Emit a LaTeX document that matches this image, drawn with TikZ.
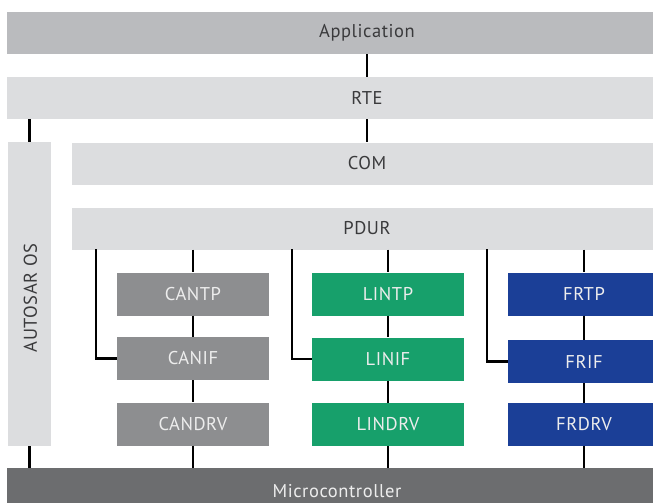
\documentclass[tikz,border=0pt]{standalone}
\usepackage{fontspec}
\setmainfont[LetterSpace=3]{PT Sans}
\usetikzlibrary{calc}
\definecolor{appgray}{HTML}{BABBBE}
\definecolor{lightgray}{HTML}{DCDDDF}
\definecolor{cangray}{HTML}{8D8E90}
\definecolor{lingreen}{HTML}{17A06B}
\definecolor{frblue}{HTML}{1B3F97}
\definecolor{microgray}{HTML}{6C6D6F}
\definecolor{darktext}{HTML}{3A3A3C}
\definecolor{lighttext}{HTML}{EDEDED}
\tikzset{
  labelfont/.style={font=\fontsize{18.5}{20}\selectfont},
  layer/.style={rectangle, inner sep=0pt, fill=lightgray, text=darktext, labelfont},
  module/.style={rectangle, inner sep=0pt, minimum width=152pt, minimum height=43pt, text=lighttext, labelfont},
  link/.style={line width=2.6pt, black}
}
\begin{document}
\begin{tikzpicture}[x=1pt, y=-1pt]
\useasboundingbox (0,0) rectangle (653,503);
\clip (0,0) rectangle (653,503);
\fill[white] (0,0) rectangle (653,503);

% horizontal layers
\node[layer, fill=appgray, minimum width=720pt, minimum height=42pt] (app) at (367,33) {Application};
\node[layer, minimum width=720pt, minimum height=42pt] (rte) at (367,98) {RTE};
\node[layer, minimum width=590pt, minimum height=42pt] (com) at (367,163.5) {COM};
\node[layer, minimum width=590pt, minimum height=42pt] (pdur) at (367,228.5) {PDUR};
\node[layer, minimum width=43pt, minimum height=304pt] (os) at (29.5,294) {};
\node[text=darktext, labelfont, rotate=90] (oslabel) at ($(os.center)+(1,4)$) {AUTOSAR OS};
\node[layer, fill=microgray, text=lighttext, minimum width=660pt, minimum height=46pt] (micro) at (337,491) {Microcontroller};

% CAN stack
\node[module, fill=cangray] (cantp) at (193,294) {CANTP};
\node[module, fill=cangray] (canif) at (193,358.5) {CANIF};
\node[module, fill=cangray] (candrv) at (193,424) {CANDRV};
% LIN stack
\node[module, fill=lingreen] (lintp) at (388,294) {LINTP};
\node[module, fill=lingreen] (linif) at (388,359) {LINIF};
\node[module, fill=lingreen] (lindrv) at (388,424.5) {LINDRV};
% FlexRay stack
\node[module, fill=frblue] (frtp) at (584,294) {FRTP};
\node[module, fill=frblue] (frif) at (584,361.5) {FRIF};
\node[module, fill=frblue] (frdrv) at (584,424.5) {FRDRV};

% vertical links between layers
\draw[link] (app.south) -- (rte.north);
\draw[link] (rte.south) -- (com.north);
\draw[link] (os.north |- rte.south) -- (os.north);
\draw[link] (os.south) -- (os.south |- micro.north);

\foreach \a/\b in {cantp/canif, canif/candrv, lintp/linif, linif/lindrv, frtp/frif, frif/frdrv}
  \draw[link] (\a.south) -- (\b.north);
\foreach \m in {cantp, lintp, frtp}
  \draw[link] (\m.north |- pdur.south) -- (\m.north);
\foreach \m in {candrv, lindrv, frdrv}
  \draw[link] (\m.south) -- (\m.south |- micro.north);

% PDUR taps into the interface modules
\coordinate (tapcan) at (96,249);
\coordinate (taplin) at (292,249);
\coordinate (tapfr) at (487,249);
\draw[link] (tapcan) |- (canif.west);
\draw[link] (taplin) |- (linif.west);
\draw[link] (tapfr) |- (frif.west);
\end{tikzpicture}
\end{document}
